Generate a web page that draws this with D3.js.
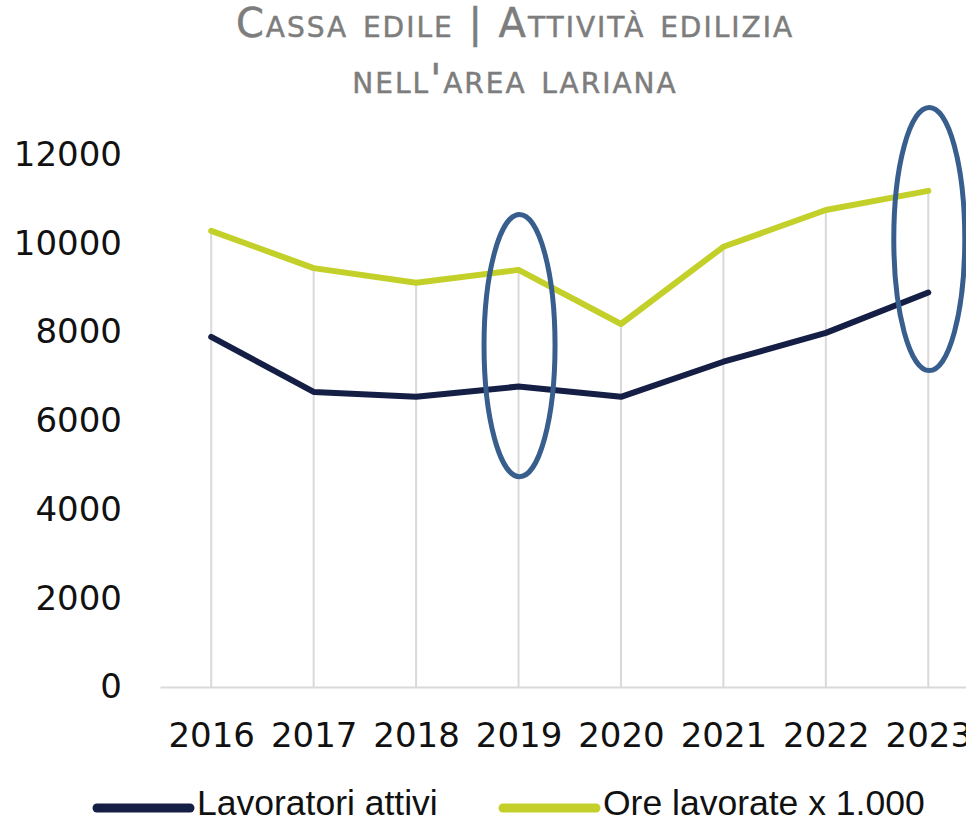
<!DOCTYPE html>
<html>
<head>
<meta charset="utf-8">
<script src="https://cdn.jsdelivr.net/npm/d3@7"></script>
<style>
	html, body { margin: 0; padding: 0; background: #fff; }
	svg { display: block; }
</style>
</head>
<body>
<svg id="chart" width="966" height="823"></svg>
<script>
/*=================
=== Data
=================*/
const years = [2016, 2017, 2018, 2019, 2020, 2021, 2022, 2023];
const lavoratori = [7890, 6650, 6540, 6770, 6540, 7330, 7980, 8890];
const ore = [10280, 9440, 9110, 9400, 8180, 9920, 10750, 11180];
const yTicks = [0, 2000, 4000, 6000, 8000, 10000, 12000];
const seriesNames = ['Lavoratori attivi', 'Ore lavorate x 1.000'];
const titleLines = ['Cassa edile | Attività edilizia', "nell'area lariana"];
// highlighted years (ellipse spans in data units)
const highlights = [
	{ year: 2019, lo: 4740, hi: 10650 },
	{ year: 2023, lo: 7130, hi: 13060 },
];

/*=================
=== Layout
=================*/
const colors = ['#151f45', '#c3d02a'];
const svg = d3.select('#chart');

const xScale = d3.scalePoint()
	.domain(years)
	.range([160, 979.5])
	.padding(0.5);

const yScale = d3.scaleLinear()
	.domain([0, 12000])
	.range([687, 154.5]);

// title (small caps)
svg.append('g')
	.selectAll('text')
	.data(titleLines)
	.enter()
	.append('text')
		.attr('x', 515)
		.attr('y', (d, i) => 37 + i * 56)
		.attr('text-anchor', 'middle')
		.style('font-family', 'DejaVu Sans, sans-serif')
		.style('font-variant', 'small-caps')
		.style('font-size', '40px')
		.style('letter-spacing', '2px')
		.attr('fill', '#7d7d7d')
		.attr('stroke', '#7d7d7d')
		.attr('stroke-width', 0.5)
		.text(d => d);

// drop lines from the highest point down to the axis
svg.append('g')
	.selectAll('line')
	.data(years)
	.enter()
	.append('line')
		.attr('x1', d => xScale(d))
		.attr('x2', d => xScale(d))
		.attr('y1', (d, i) => yScale(Math.max(ore[i], lavoratori[i])))
		.attr('y2', yScale(0))
		.attr('stroke', '#d9d9d9')
		.attr('stroke-width', 2);

// x axis
const xAxis = svg.append('g')
	.attr('transform', `translate(0, ${yScale(0)})`)
	.call(d3.axisBottom(xScale).tickSize(0).tickPadding(36));
xAxis.select('.domain')
	.attr('stroke', '#d9d9d9')
	.attr('stroke-width', 2);
xAxis.selectAll('text')
	.style('font-family', 'DejaVu Sans, sans-serif')
	.style('font-size', '34px')
	.attr('fill', '#111');

// y axis (labels only)
const yAxis = svg.append('g')
	.attr('transform', 'translate(160, 0)')
	.call(d3.axisLeft(yScale).tickValues(yTicks).tickSize(0).tickPadding(38).tickFormat(d3.format('d')));
yAxis.select('.domain').remove();
yAxis.selectAll('text')
	.style('font-family', 'DejaVu Sans, sans-serif')
	.style('font-size', '34px')
	.attr('fill', '#111');

// lines
const line = d3.line()
	.x((d, i) => xScale(years[i]))
	.y(d => yScale(d));

svg.append('g')
	.selectAll('path')
	.data([ore, lavoratori])
	.enter()
	.append('path')
		.attr('d', line)
		.attr('fill', 'none')
		.attr('stroke', (d, i) => i === 0 ? colors[1] : colors[0])
		.attr('stroke-width', 6)
		.attr('stroke-linejoin', 'round')
		.attr('stroke-linecap', 'round');

// highlight ellipses
svg.append('g')
	.selectAll('ellipse')
	.data(highlights)
	.enter()
	.append('ellipse')
		.attr('cx', d => xScale(d.year) + 1)
		.attr('cy', d => (yScale(d.lo) + yScale(d.hi)) / 2)
		.attr('rx', 35.5)
		.attr('ry', d => (yScale(d.lo) - yScale(d.hi)) / 2)
		.attr('fill', 'none')
		.attr('stroke', '#375e8d')
		.attr('stroke-width', 5);

// legend
const legendX = [97, 503];
const legend = svg.append('g')
	.selectAll('g')
	.data(seriesNames)
	.enter()
	.append('g')
		.attr('transform', (d, i) => `translate(${legendX[i]}, 808)`);

legend.append('line')
	.attr('x1', 0)
	.attr('x2', 93)
	.attr('stroke', (d, i) => colors[i])
	.attr('stroke-width', 9)
	.attr('stroke-linecap', 'round');

legend.append('text')
	.attr('x', 100)
	.attr('y', 7)
	.style('font-family', 'Liberation Sans, Arial, sans-serif')
	.style('font-size', '35.5px')
	.attr('fill', '#111')
	.text(d => d);
</script>
</body>
</html>
